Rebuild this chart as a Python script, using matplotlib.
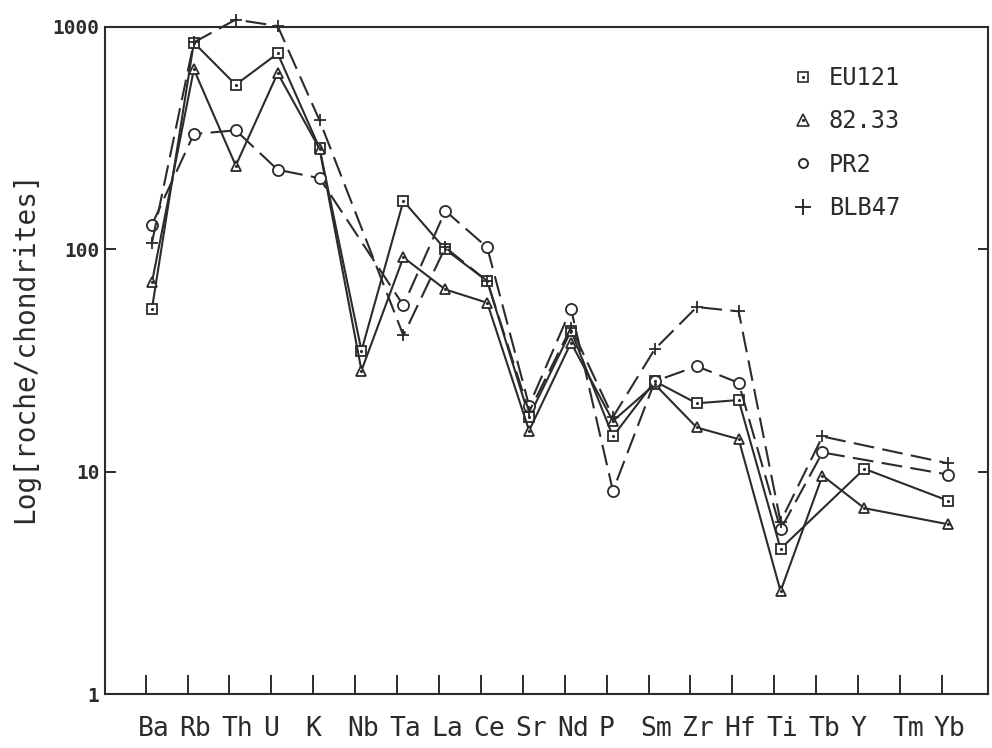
import numpy as np
import matplotlib.pyplot as plt
from matplotlib.lines import Line2D
from matplotlib.ticker import NullLocator, FixedLocator

# ── Données (normalisées aux chondrites) ──
elements = ['Ba', 'Rb', 'Th', 'U', 'K', 'Nb', 'Ta', 'La', 'Ce', 'Sr',
            'Nd', 'P', 'Sm', 'Zr', 'Hf', 'Ti', 'Tb', 'Y', 'Tm', 'Yb']
nan = np.nan
eu121 = [54, 850, 550, 760, 285, 35, 165, 100, 72, 17.7,
         43, 14.4, 25.5, 20.3, 21, 4.5, nan, 10.3, nan, 7.4]
s8233 = [71, 645, 238, 620, 283, 28.5, 92, 66, 57.5, 15.3,
         38, 16.9, 24.7, 15.8, 14.0, 2.9, 9.6, 6.85, nan, 5.8]
pr2 = [129, 330, 343, 228, 209, nan, 56, 149, 102, 19.8,
       54, 8.2, 25.5, 29.8, 25.1, 5.5, 12.2, nan, nan, 9.7]
blb47 = [107, 853, 1080, 1010, 380, nan, 41, 102, 72, 18.6,
         44.5, 17.6, 35.6, 55, 52.6, 5.95, 14.4, nan, nan, 10.9]
labels = ['EU121', '82.33', 'PR2', 'BLB47']

INK = '#2b2b2b'
MONO = 'DejaVu Sans Mono'

fig = plt.figure(figsize=(9.92, 7.48), dpi=100)
ax = fig.add_axes([105 / 992, 54 / 748, 883 / 992, 667 / 748])

x = np.arange(len(elements))
dash = (10, 4)


def draw(vals, marker, ms, dashed, dot=False):
    v = np.array(vals, dtype=float)
    m = ~np.isnan(v)
    ln, = ax.plot(x[m], v[m], color=INK, lw=1.5, marker=marker, ms=ms,
                  mfc='white', mec=INK, mew=1.3, clip_on=False, zorder=3)
    if dashed:
        ln.set_dashes(dash)
    if dot:
        ax.plot(x[m], v[m], ls='none', marker='.', ms=2.5, color=INK,
                clip_on=False, zorder=4)


draw(eu121, 's', 6.5, False, dot=True)
draw(s8233, '^', 7.5, False, dot=True)
draw(pr2, 'o', 8, True)
draw(blb47, '+', 9, True)

ax.set_yscale('log')
ax.set_ylim(1, 1000)
ax.set_xlim(-1.12, 19.95)
ax.yaxis.set_major_locator(FixedLocator([1, 10, 100, 1000]))
ax.yaxis.set_minor_locator(NullLocator())
ax.set_yticklabels(['1', '10', '100', '1000'], fontfamily=MONO,
                   fontsize=14, fontweight='bold', color=INK)

# tirets vers l'intérieur (majeurs), noms des éléments (mineurs, sans tiret)
ax.set_xticks(x - 0.15)
ax.set_xticklabels([])
ax.set_xticks(x - 0.34, minor=True)
ax.set_xticklabels(elements, minor=True, fontfamily=MONO, fontsize=19,
                   color=INK, ha='left')

ax.tick_params(axis='x', which='major', direction='in', length=14,
               width=1.4, color=INK)
ax.tick_params(axis='x', which='minor', length=0, pad=16)
ax.tick_params(axis='y', direction='in', length=8, width=1.4,
               color=INK, pad=4)
ax.yaxis.set_tick_params(which='major', right=True)
for tk in ax.yaxis.get_major_ticks():
    tk.tick2line.set_marker(0)  # tiret horizontal à droite
    tk.tick2line.set_markersize(7)

for s in ax.spines.values():
    s.set_linewidth(1.5)
    s.set_color(INK)

ax.set_ylabel('Log[roche/chondrites]', fontfamily=MONO, fontsize=20,
              color=INK, labelpad=8)
ax.yaxis.set_label_coords(-0.075, 0.52)

# ── Légende ──
handles = [
    (Line2D([], [], ls='none', marker='s', ms=7, mfc='white', mec=INK, mew=1.2),
     Line2D([], [], ls='none', marker='.', ms=2.5, color=INK)),
    (Line2D([], [], ls='none', marker='^', ms=8, mfc='white', mec=INK, mew=1.2),
     Line2D([], [], ls='none', marker='.', ms=2.5, color=INK)),
    Line2D([], [], ls='none', marker='o', ms=6.5, mfc='white', mec=INK, mew=1.4),
    Line2D([], [], ls='none', marker='+', ms=11, mec=INK, mew=1.4),
]
leg = ax.legend(handles, labels, loc='upper left',
                bbox_to_anchor=(791 / 992, 1 - 66 / 748),
                bbox_transform=fig.transFigure, frameon=False,
                prop={'family': MONO, 'size': 17}, handlelength=1.0,
                handletextpad=0.6, labelspacing=0.82, borderpad=0,
                borderaxespad=0)
for t in leg.get_texts():
    t.set_color(INK)

fig.savefig('out.png', dpi=100)
